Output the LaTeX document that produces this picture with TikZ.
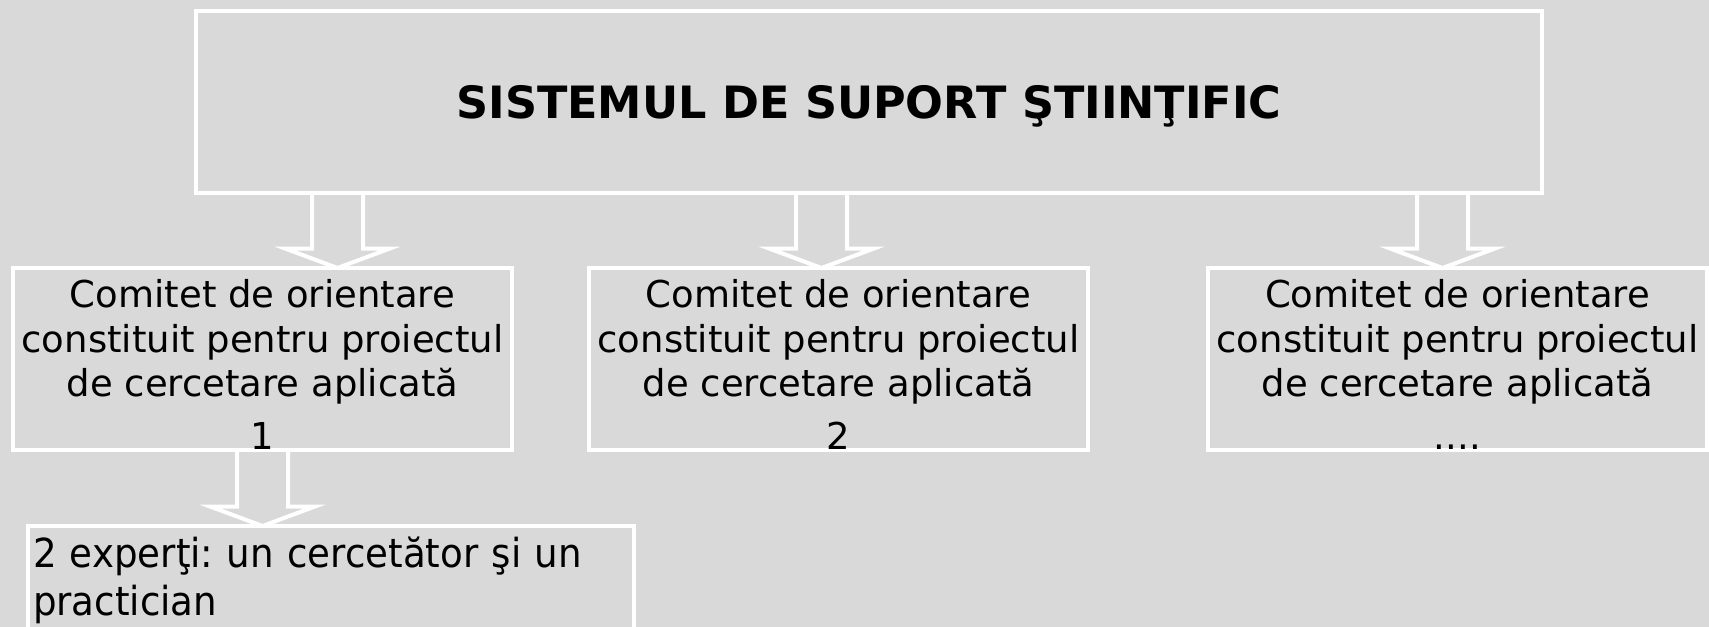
\documentclass[tikz,border=0pt]{standalone}
\usepackage{fontspec}
\setmainfont{DejaVu Sans}
\newfontfamily\expertfont[FakeStretch=0.93]{DejaVu Sans}
\usetikzlibrary{calc}
\definecolor{slidegray}{RGB}{217,217,217}
\frenchspacing
\newcommand{\comtext}[1]{\rule{0pt}{29pt}Comitet de orientare\\constituit pentru proiectul\\de cercetare aplicată\\[6pt]#1}

\begin{document}
\begin{tikzpicture}[x=0.75pt, y=-0.75pt,
  panel/.style = {draw=white, line width=3pt, inner sep=0pt, outer sep=0pt},
  comitet/.style = {panel, minimum width=374.25pt, minimum height=136.5pt, align=center,
    font=\fontsize{27.75pt}{33.5pt}\selectfont},
  hollow/.style = {draw=white, line width=3pt, to path={let \p1=(\tikztostart), \p2=(\tikztotarget) in
    (\x1-19.125pt,\y1) -- (\x1-19.125pt,\y2+14.5pt) -- (\x1-39pt,\y2+14.5pt) -- (\x2,\y2)
    -- (\x1+39pt,\y2+14.5pt) -- (\x1+19.125pt,\y2+14.5pt) -- (\x1+19.125pt,\y1)}}]
\fill[slidegray] (0,0) rectangle (1709,627);
\useasboundingbox (0,0) rectangle (1709,627);
\clip (0,0) rectangle (1709,627);

\node[panel, minimum width=1009.5pt, minimum height=136.5pt, text depth=0pt,
  font=\bfseries\fontsize{33.4pt}{40pt}\selectfont] (sistem) at (869,102) {SISTEMUL DE SUPORT ŞTIINŢIFIC};
\node[comitet] (c1) at (262.5,359) {\comtext{1}};
\node[comitet] (c2) at (838.5,359) {\comtext{2}};
\node[comitet] (c3) at (1457.5,359) {\comtext{....}};
\node[panel, minimum width=454.5pt, minimum height=81pt, text width=447pt, align=left,
  font=\expertfont\fontsize{30pt}{36pt}\selectfont] (experti) at (331,580) {2 experţi: un cercetător şi un\\practician};

% sagetile
\coordinate (a1) at (337.5,0);
\coordinate (a2) at (821.5,0);
\coordinate (a3) at (1442.5,0);
\coordinate (a4) at (262.5,0);
\draw[hollow] (sistem.south -| a1) to (c1.north -| a1);
\draw[hollow] (sistem.south -| a2) to (c2.north -| a2);
\draw[hollow] (sistem.south -| a3) to (c3.north -| a3);
\draw[hollow] (c1.south -| a4) to (experti.north -| a4);
\end{tikzpicture}
\end{document}
